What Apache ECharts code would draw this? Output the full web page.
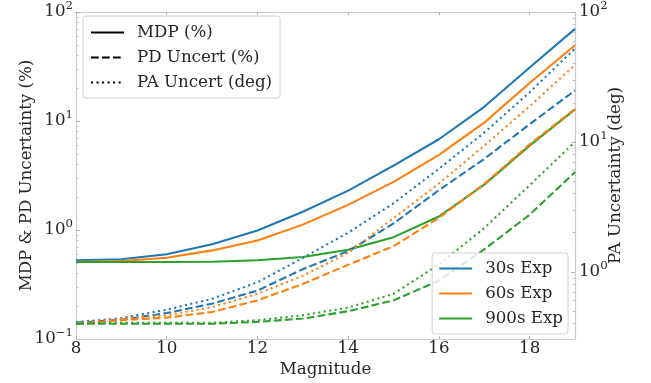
<!DOCTYPE html>
<html>
<head>
<meta charset="utf-8">
<script src="https://cdn.jsdelivr.net/npm/echarts@6/dist/echarts.min.js"></script>
<style>html,body{margin:0;padding:0;background:#fff}#c{width:651px;height:383px}</style>
</head>
<body>
<div id="c"></div>
<script>
// ---- data ----
const mags = [8, 9, 10, 11, 12, 13, 14, 15, 16, 17, 18, 19];
const exposures = ['30s Exp', '60s Exp', '900s Exp'];
const metrics = ['MDP (%)', 'PD Uncert (%)', 'PA Uncert (deg)'];

const mdp30  = [0.528, 0.54, 0.60, 0.74, 0.99, 1.47, 2.3, 3.9, 6.8, 13.5, 31, 70];
const mdp60  = [0.51, 0.52, 0.557, 0.65, 0.80, 1.12, 1.7, 2.76, 4.88, 9.66, 22.3, 49.5];
const mdp900 = [0.509, 0.509, 0.509, 0.512, 0.528, 0.565, 0.66, 0.86, 1.33, 2.61, 5.94, 12.8];

const pd30  = [0.1405, 0.15, 0.173, 0.211, 0.278, 0.437, 0.64, 1.15, 2.32, 4.49, 9.33, 19.1];
const pd60  = [0.137, 0.149, 0.157, 0.177, 0.226, 0.32, 0.48, 0.711, 1.29, 2.65, 6.1, 12.9];
const pd900 = [0.138, 0.138, 0.138, 0.138, 0.1435, 0.154, 0.18, 0.226, 0.343, 0.664, 1.38, 3.40];

const pa30  = [0.41, 0.44, 0.511, 0.62, 0.83, 1.28, 2.0, 3.37, 6.21, 11.8, 24.1, 52.3];
const pa60  = [0.40, 0.437, 0.463, 0.535, 0.677, 0.932, 1.4, 2.59, 4.78, 9.36, 18.8, 39.1];
const pa900 = [0.40, 0.405, 0.405, 0.405, 0.424, 0.463, 0.53, 0.676, 1.14, 2.17, 4.64, 10.0];

const xTicks = [8, 10, 12, 14, 16, 18];
const yLeftTicks = [0.1, 1, 10, 100];
const yRightTicks = [1, 10, 100];
const yLeftMinor = [0.2,0.3,0.4,0.5,0.6,0.7,0.8,0.9,2,3,4,5,6,7,8,9,20,30,40,50,60,70,80,90];
const yRightMinor = [0.4,0.5,0.6,0.7,0.8,0.9,2,3,4,5,6,7,8,9,20,30,40,50,60,70,80,90];
const xLabel = 'Magnitude';
const yLeftLabel = 'MDP & PD Uncertainty (%)';
const yRightLabel = 'PA Uncertainty (deg)';

// ---- styling ----
const colors = ['#1f77b4', '#ff7f0e', '#2ca02c'];
const FONT = 'DejaVu Serif';
const FS = 16.67;
const TXT = '#262626';
const SPINE = '#cccccc';
const LW = 2.08;
const DASH = [7.7, 3.3];
const DOT = [2.08, 3.44];

function pair(arr) { return mags.map((m, i) => [m, arr[i]]); }
function powLabel(v) {
  const l = Math.log10(v); const e = Math.round(l);
  if (Math.abs(l - e) > 1e-6) return '';
  return '{b|10}{s|' + (e < 0 ? '\u2212' + (-e) : e) + '}';
}
const rich = {
  b: { fontFamily: FONT, fontSize: FS, color: TXT, lineHeight: 24 },
  s: { fontFamily: FONT, fontSize: 11.7, color: TXT, lineHeight: 12, verticalAlign: 'top' }
};

const mdpSets = [mdp30, mdp60, mdp900];
const pdSets = [pd30, pd60, pd900];
const paSets = [pa30, pa60, pa900];
const series = [];
exposures.forEach((name, k) => series.push({ name, type: 'line', yAxisIndex: 0, data: pair(mdpSets[k]), symbol: 'none', color: colors[k], lineStyle: { width: LW, color: colors[k], type: 'solid' }, z: 2 }));
exposures.forEach((name, k) => series.push({ name, type: 'line', yAxisIndex: 0, data: pair(pdSets[k]), symbol: 'none', color: colors[k], lineStyle: { width: LW, color: colors[k], type: DASH }, z: 2 }));
exposures.forEach((name, k) => series.push({ name, type: 'line', yAxisIndex: 1, data: pair(paSets[k]), symbol: 'none', color: colors[k], lineStyle: { width: LW, color: colors[k], type: DOT }, z: 3 }));
const styleTypes = ['solid', DASH, DOT];
metrics.forEach((name, k) => series.push({ name, type: 'line', yAxisIndex: 0, data: [], symbol: 'none', color: '#000', lineStyle: { width: LW, color: '#000', type: styleTypes[k] } }));

const legendCommon = {
  orient: 'vertical', selectedMode: false, itemWidth: 33, itemHeight: 16, itemGap: 8,
  itemStyle: { opacity: 0, borderWidth: 0 },
  backgroundColor: 'rgba(255,255,255,0.8)', borderColor: '#d0d0d0', borderWidth: 1, borderRadius: 3,
  textStyle: { fontFamily: FONT, fontSize: FS, color: TXT, lineHeight: 16, padding: [0, 0, 0, 8] },
  z: 10
};

const option = {
  animation: false,
  backgroundColor: '#fff',
  grid: { left: 76, top: 9, right: 76, bottom: 44 },
  legend: [
    Object.assign({}, legendCommon, { data: metrics, left: 83, top: 16, padding: [8, 8, 7, 7] }),
    Object.assign({}, legendCommon, { data: exposures, right: 83, top: 253, padding: [7, 5, 7, 6] })
  ],
  xAxis: [
    { type: 'value', min: 8, max: 19, interval: 2, position: 'bottom',
      axisLine: { show: true, lineStyle: { color: SPINE, width: 1.2 } },
      axisTick: { show: true, inside: true, length: 3, lineStyle: { color: '#b0b0b0' }, customValues: xTicks },
      axisLabel: { customValues: xTicks, fontFamily: FONT, fontSize: FS, color: TXT, margin: 1 },
      splitLine: { show: false },
      name: xLabel, nameLocation: 'middle', nameGap: 22, nameMoveOverlap: false,
      nameTextStyle: { fontFamily: FONT, fontSize: FS, color: TXT } },
    { type: 'value', min: 8, max: 19, interval: 2, position: 'top',
      axisLine: { show: true, lineStyle: { color: SPINE, width: 1.2 } },
      axisTick: { show: true, inside: true, length: 3, lineStyle: { color: '#b0b0b0' }, customValues: xTicks },
      axisLabel: { show: false }, splitLine: { show: false } }
  ],
  yAxis: [
    { type: 'log', logBase: 10, min: 0.1, max: 100, position: 'left',
      axisLine: { show: true, lineStyle: { color: SPINE, width: 1.2 } },
      axisTick: { show: true, inside: true, length: 4, lineStyle: { color: '#b0b0b0' }, customValues: yLeftTicks },
      axisLabel: { customValues: yLeftTicks, formatter: powLabel, rich, margin: 3 },
      splitLine: { show: false },
      name: yLeftLabel, nameLocation: 'middle', nameRotate: 90, nameGap: 41, nameMoveOverlap: false,
      nameTextStyle: { fontFamily: FONT, fontSize: FS, color: TXT } },
    { type: 'log', logBase: 10, min: 0.304, max: 100, position: 'right',
      axisLine: { show: true, lineStyle: { color: SPINE, width: 1.2 } },
      axisTick: { show: true, inside: true, length: 4, lineStyle: { color: '#b0b0b0' }, customValues: yRightTicks },
      axisLabel: { customValues: yRightTicks, formatter: powLabel, rich, margin: 4 },
      splitLine: { show: false },
      name: yRightLabel, nameLocation: 'middle', nameRotate: 90, nameGap: 32, nameMoveOverlap: false,
      nameTextStyle: { fontFamily: FONT, fontSize: FS, color: TXT } },
    { type: 'log', logBase: 10, min: 0.1, max: 100, position: 'left',
      axisLine: { show: false },
      axisTick: { show: true, inside: true, length: 2.5, lineStyle: { color: '#c0c0c0' }, customValues: yLeftMinor },
      axisLabel: { show: false }, splitLine: { show: false } },
    { type: 'log', logBase: 10, min: 0.304, max: 100, position: 'right',
      axisLine: { show: false },
      axisTick: { show: true, inside: true, length: 2.5, lineStyle: { color: '#c0c0c0' }, customValues: yRightMinor },
      axisLabel: { show: false }, splitLine: { show: false } }
  ],
  series
};
echarts.init(document.getElementById('c'), null, { renderer: 'canvas' }).setOption(option);
</script>
</body>
</html>
